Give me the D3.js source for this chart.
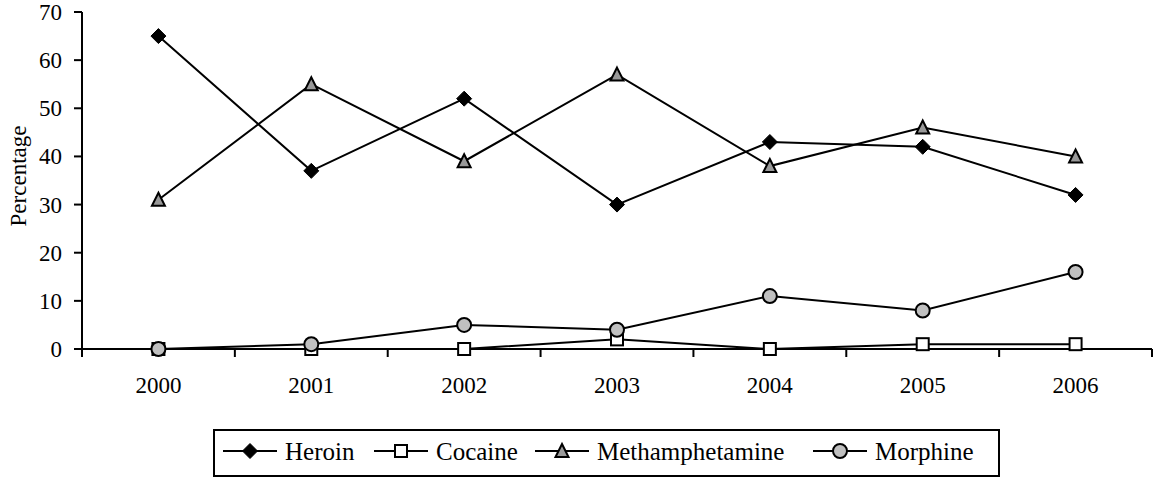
<!DOCTYPE html>
<meta charset="utf-8">
<style>
body { margin: 0; background: #fff; }
svg text { font-family: "Liberation Serif", "Times New Roman", Times, serif; fill: #000; }
</style>
<svg width="1155" height="480" class="top" font-family="Liberation Serif, serif"></svg>
<script src="https://d3js.org/d3.v7.min.js"></script>
<script>

var years = ["2000", "2001", "2002", "2003", "2004", "2005", "2006"];
var heroin = [65, 37, 52, 30, 43, 42, 32];
var cocaine = [0, 0, 0, 2, 0, 1, 1];
var methamphetamine = [31, 55, 39, 57, 38, 46, 40];
var morphine = [0, 1, 5, 4, 11, 8, 16];
var yTicks = [0, 10, 20, 30, 40, 50, 60, 70];

var series = [
  {name: "Heroin", values: heroin, shape: "diamond", fill: "#000"},
  {name: "Cocaine", values: cocaine, shape: "square", fill: "#fff"},
  {name: "Methamphetamine", values: methamphetamine, shape: "triangle", fill: "#999"},
  {name: "Morphine", values: morphine, shape: "circle", fill: "#c0c0c0"}
];

var svg = d3.select(".top"),
    margin = {top: 12, right: 3, bottom: 131, left: 82},
    width = +svg.attr("width") - margin.left - margin.right,
    height = +svg.attr("height") - margin.top - margin.bottom,
    g = svg.append("g").attr("transform", "translate(" + margin.left + "," + margin.top + ")");

var x = d3.scaleBand().domain(years).range([0, width]);
var y = d3.scaleLinear().domain([0, 70]).range([height, 0]);

// marker drawing
function marker(sel, shape, fill) {
  if (shape === "diamond") {
    sel.append("path").attr("d", "M0,-7.5L7.5,0L0,7.5L-7.5,0Z")
      .attr("fill", fill).attr("stroke", "#000").attr("stroke-width", 1);
  } else if (shape === "square") {
    sel.append("rect").attr("x", -6).attr("y", -6).attr("width", 12).attr("height", 12)
      .attr("fill", fill).attr("stroke", "#000").attr("stroke-width", 2);
  } else if (shape === "triangle") {
    sel.append("path").attr("d", "M0,-7L6.5,6L-6.5,6Z")
      .attr("fill", fill).attr("stroke", "#000").attr("stroke-width", 2);
  } else {
    sel.append("circle").attr("r", 7)
      .attr("fill", fill).attr("stroke", "#000").attr("stroke-width", 2);
  }
}

// axes
g.append("line").attr("x1", 0).attr("x2", 0).attr("y1", 0).attr("y2", height)
  .attr("stroke", "#000").attr("stroke-width", 2);
g.append("line").attr("x1", 0).attr("x2", width).attr("y1", height).attr("y2", height)
  .attr("stroke", "#000").attr("stroke-width", 2);

g.selectAll(".ytick").data(yTicks).enter().append("line")
  .attr("x1", -8).attr("x2", 0)
  .attr("y1", function(d) { return y(d); }).attr("y2", function(d) { return y(d); })
  .attr("stroke", "#000").attr("stroke-width", 2);

g.selectAll(".ylab").data(yTicks).enter().append("text")
  .attr("x", -20).attr("y", function(d) { return y(d); })
  .attr("dy", "0.35em").attr("text-anchor", "end")
  .style("font-size", "23px")
  .text(function(d) { return d; });

var bounds = years.map(function(d) { return x(d); }).concat([width]);
g.selectAll(".xtick").data(bounds).enter().append("line")
  .attr("x1", function(d) { return d; }).attr("x2", function(d) { return d; })
  .attr("y1", height).attr("y2", height + 8)
  .attr("stroke", "#000").attr("stroke-width", 2);

g.selectAll(".xlab").data(years).enter().append("text")
  .attr("x", function(d) { return x(d) + x.bandwidth() / 2; })
  .attr("y", height + 44)
  .attr("text-anchor", "middle")
  .style("font-size", "23px")
  .text(function(d) { return d; });

svg.append("text")
  .attr("transform", "translate(26,176) rotate(-90)")
  .attr("text-anchor", "middle")
  .style("font-size", "23px")
  .text("Percentage");

// lines and markers
var line = d3.line()
  .x(function(d, i) { return x(years[i]) + x.bandwidth() / 2; })
  .y(function(d) { return y(d); });

series.forEach(function(s) {
  g.append("path").datum(s.values)
    .attr("d", line).attr("fill", "none")
    .attr("stroke", "#000").attr("stroke-width", 2);
});
series.forEach(function(s) {
  g.selectAll(".m-" + s.shape).data(s.values).enter().append("g")
    .attr("transform", function(d, i) {
      return "translate(" + (x(years[i]) + x.bandwidth() / 2) + "," + y(d) + ")";
    })
    .each(function() { marker(d3.select(this), s.shape, s.fill); });
});

// legend
var legend = svg.append("g").attr("transform", "translate(214,430)");
legend.append("rect").attr("width", 785).attr("height", 46)
  .attr("fill", "#fff").attr("stroke", "#000").attr("stroke-width", 2);

var lx = [9, 160, 321, 599];
series.forEach(function(s, i) {
  var item = legend.append("g").attr("transform", "translate(" + lx[i] + ",21)");
  item.append("line").attr("x1", 0).attr("x2", 54).attr("stroke", "#000").attr("stroke-width", 2);
  marker(item.append("g").attr("transform", "translate(27,0)"), s.shape, s.fill);
  item.append("text").attr("x", 62).attr("dy", "0.35em")
    .style("font-size", "25px").text(s.name);
});

</script>
